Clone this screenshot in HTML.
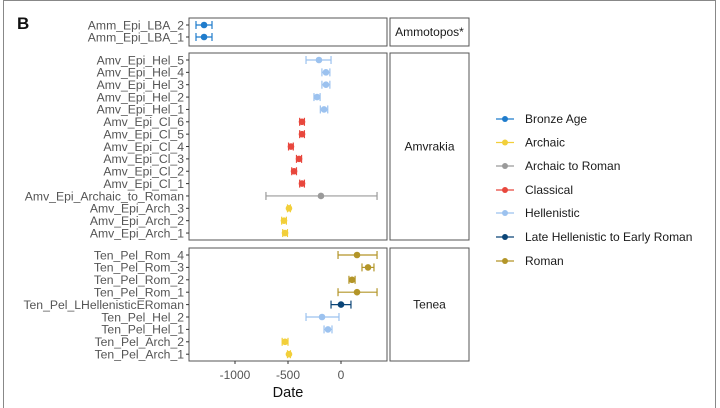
<!DOCTYPE html>
<html><head><meta charset="utf-8"><style>
body{margin:0;background:#fff;}
svg{display:block;font-family:"Liberation Sans",sans-serif;}
</style></head><body>
<svg id="chart" width="720" height="408" xmlns="http://www.w3.org/2000/svg">
<line x1="3.5" y1="0" x2="3.5" y2="408" stroke="#888"/>
<line x1="715.5" y1="0" x2="715.5" y2="408" stroke="#888"/>
<line x1="3" y1="0.5" x2="716" y2="0.5" stroke="#888"/>
<text x="17" y="29" font-size="17" font-weight="bold" fill="#111">B</text>
<g id="plot"></g>
<text x="288" y="397" font-size="14.5" fill="#111" text-anchor="middle">Date</text>
<g id="legend"></g>
</svg>
<script>
const periods = ["Bronze Age","Archaic","Archaic to Roman","Classical","Hellenistic","Late Hellenistic to Early Roman","Roman"];
const periodColors = ["#1f7ccc","#f2cf3a","#9a9a9a","#e8473d","#9cc2ef","#0b4577","#b39528"];
const facets = ["Ammotopos*","Amvrakia","Tenea"];
const samples = [
 ["Amm_Epi_LBA_2","Amm_Epi_LBA_1"],
 ["Amv_Epi_Hel_5","Amv_Epi_Hel_4","Amv_Epi_Hel_3","Amv_Epi_Hel_2","Amv_Epi_Hel_1","Amv_Epi_Cl_6","Amv_Epi_Cl_5","Amv_Epi_Cl_4","Amv_Epi_Cl_3","Amv_Epi_Cl_2","Amv_Epi_Cl_1","Amv_Epi_Archaic_to_Roman","Amv_Epi_Arch_3","Amv_Epi_Arch_2","Amv_Epi_Arch_1"],
 ["Ten_Pel_Rom_4","Ten_Pel_Rom_3","Ten_Pel_Rom_2","Ten_Pel_Rom_1","Ten_Pel_LHellenisticERoman","Ten_Pel_Hel_2","Ten_Pel_Hel_1","Ten_Pel_Arch_2","Ten_Pel_Arch_1"]
];
const estimates = [
 [-1292,-1292],
 [-208,-142,-142,-226,-160,-368,-368,-472,-396,-443,-368,-189,-491,-538,-528],
 [151,255,104,151,0,-179,-123,-528,-491]
];
const lowers = [
 [-1368,-1368],
 [-330,-180,-180,-255,-195,-390,-390,-495,-420,-465,-390,-708,-505,-560,-550],
 [-28,198,75,-28,-94,-330,-160,-555,-505]
];
const uppers = [
 [-1217,-1217],
 [-94,-105,-105,-197,-125,-345,-345,-450,-372,-420,-345,340,-477,-515,-505],
 [340,311,133,340,94,-19,-85,-500,-477]
];
const periodIdx = [
 [0,0],
 [4,4,4,4,4,3,3,3,3,3,3,2,1,1,1],
 [6,6,6,6,5,4,4,1,1]
];
const xTicks = [-1000,-500,0];
const xTickLabels = ["-1000","-500","0"];

const NS="http://www.w3.org/2000/svg";
const X0=189,X1=387,V0=-1434,V1=434;
const xs=v=>X0+(v-V0)/(V1-V0)*(X1-X0);
const panels=[{top:18,bot:46,first:25,step:12},{top:53,bot:240,first:60,step:12.36},{top:248,bot:361,first:255,step:12.4}];
const plot=document.getElementById('plot');
function mk(tag,attrs,parent){const e=document.createElementNS(NS,tag);for(const k in attrs)e.setAttribute(k,attrs[k]);(parent||plot).appendChild(e);return e;}
panels.forEach((p,pi)=>{
 const r=mk('rect',{x:X0,y:p.top,width:X1-X0,height:p.bot-p.top,fill:'#fff',stroke:'#555','stroke-width':1});
 
 
 const s=mk('rect',{x:390,y:p.top,width:79,height:p.bot-p.top,fill:'#fff',stroke:'#555','stroke-width':1});
 
 
 const st=mk('text',{x:429.5,y:(p.top+p.bot)/2+4,'font-size':12,'text-anchor':'middle',fill:'#1a1a1a'});
 st.textContent=facets[pi];
 
 
 samples[pi].forEach((name,i)=>{
  const y=p.first+i*p.step;
  const c=periodColors[periodIdx[pi][i]];
  mk('line',{x1:X0-3,x2:X0,y1:y,y2:y,stroke:'#333'});
  const t=mk('text',{x:X0-5,y:y+4.3,'font-size':12.2,'text-anchor':'end',fill:'#555'});
  t.textContent=name;
  
  
  const lo=xs(lowers[pi][i]),hi=xs(uppers[pi][i]);
  const g=mk('g',{stroke:c,'stroke-width':1.2});
  
  
  mk('line',{x1:lo,x2:hi,y1:y,y2:y},g);
  mk('line',{x1:lo,x2:lo,y1:y-4,y2:y+4},g);
  mk('line',{x1:hi,x2:hi,y1:y-4,y2:y+4},g);
  const d=mk('circle',{cx:xs(estimates[pi][i]),cy:y,r:3.3,fill:c});
  
  
 });
});
xTicks.forEach((v,i)=>{
 mk('line',{x1:xs(v),x2:xs(v),y1:361,y2:364,stroke:'#333'});
 const t=mk('text',{x:xs(v),y:379,'font-size':12,'text-anchor':'middle',fill:'#555'});
 t.textContent=xTickLabels[i];
 
 
});
const leg=document.getElementById('legend');
const ly=[119,142.5,166,190,213,237,261];
periods.forEach((p,i)=>{
 const g=mk('g',{},leg);
 
 
 mk('line',{x1:496,x2:514,y1:ly[i],y2:ly[i],stroke:periodColors[i],'stroke-width':1.2},g);
 mk('circle',{cx:505,cy:ly[i],r:3,fill:periodColors[i]},g);
 const t=mk('text',{x:525,y:ly[i]+4,'font-size':12,fill:'#1a1a1a'},g);
 t.textContent=p;
});
</script>
</body></html>
